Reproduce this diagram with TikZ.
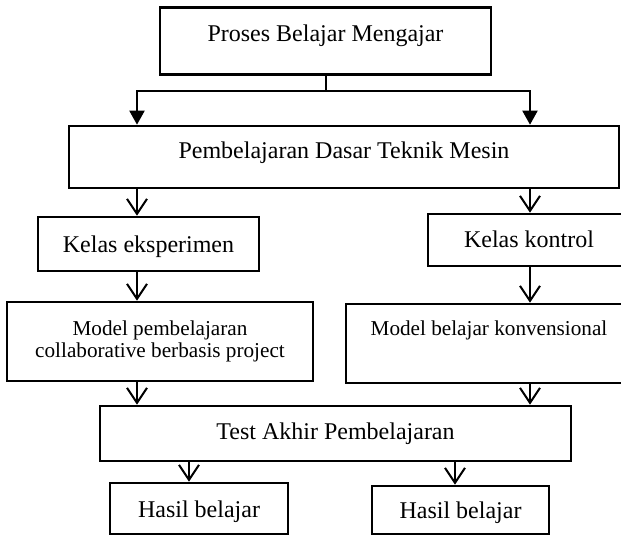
\documentclass[tikz,border=0pt]{standalone}
\usepackage{fontspec}
\setmainfont{Liberation Serif}
\usetikzlibrary{arrows.meta}

\begin{document}
\begin{tikzpicture}[
  x=0.5pt, y=-0.5pt,
  kotak/.style={
    draw,
    line width=1.3pt,
    inner sep=0pt,
    align=center,
    font=\fontsize{12}{14}\selectfont
  },
  kotakkecil/.style={
    kotak,
    font=\fontsize{10.6}{11}\selectfont
  },
  panah/.style={-{Straight Barb[length=7.5pt,width=10pt]}, line width=1pt},
  cabang/.style={-{Triangle[length=7pt,width=7.5pt]}, line width=1pt}
]
\useasboundingbox (0,0) rectangle (621,535);

\node[kotak, minimum width=165.5pt, minimum height=33.5pt, text height=8pt, text depth=7.5pt] (proses) at (325.5,41) {Proses Belajar Mengajar};
\node[kotak, minimum width=275pt, minimum height=31pt, text height=8.5pt, text depth=7.5pt] (pemb) at (344,157) {Pembelajaran Dasar Teknik Mesin};
\node[kotak, minimum width=110.5pt, minimum height=27pt, text height=8.5pt, text depth=0.5pt] (eksp) at (148.5,244) {Kelas eksperimen};
\node[kotak, minimum width=101pt, minimum height=26pt, text height=8.5pt, text depth=1.5pt] (kontrol) at (529,240) {Kelas kontrol};
\node[kotakkecil, minimum width=153pt, minimum height=39.5pt] (kolab) at (160,341.5) {Model pembelajaran\\collaborative berbasis project};
\node[kotakkecil, minimum width=143pt, minimum height=39.5pt, text height=7.5pt, text depth=16pt] (konv) at (489,343.5) {Model belajar konvensional};
\node[kotak, minimum width=235.5pt, minimum height=27.5pt, text height=8.5pt, text depth=3pt] (tes) at (335.5,433.5) {Test Akhir Pembelajaran};
\node[kotak, minimum width=89pt, minimum height=25.5pt, text height=8.5pt, text depth=0pt] (hasilA) at (199,508.5) {Hasil belajar};
\node[kotak, minimum width=88.5pt, minimum height=24pt, text height=8.5pt, text depth=0.5pt] (hasilB) at (460.5,510) {Hasil belajar};

% kolom panah
\coordinate (kiri) at (137,0);
\coordinate (kanan) at (530,0);
\coordinate (hasilkiri) at (189,0);
\coordinate (hasilkanan) at (455,0);
\coordinate (simpang) at (0,91);

\draw[line width=1pt] (proses.south) -- (proses.south |- simpang);
\draw[cabang] (proses.south |- simpang) -| (pemb.north -| kiri);
\draw[cabang] (proses.south |- simpang) -| (pemb.north -| kanan);

\draw[panah] (pemb.south -| kiri) -- (eksp.north -| kiri);
\draw[panah] (pemb.south -| kanan) -- (kontrol.north -| kanan);
\draw[panah] (eksp.south -| kiri) -- (kolab.north -| kiri);
\draw[panah] (kontrol.south -| kanan) -- (konv.north -| kanan);
\draw[panah] (kolab.south -| kiri) -- (tes.north -| kiri);
\draw[panah] (konv.south -| kanan) -- (tes.north -| kanan);
\draw[panah] (tes.south -| hasilkiri) -- (hasilA.north -| hasilkiri);
\draw[panah] (tes.south -| hasilkanan) -- (hasilB.north -| hasilkanan);

\end{tikzpicture}
\end{document}
